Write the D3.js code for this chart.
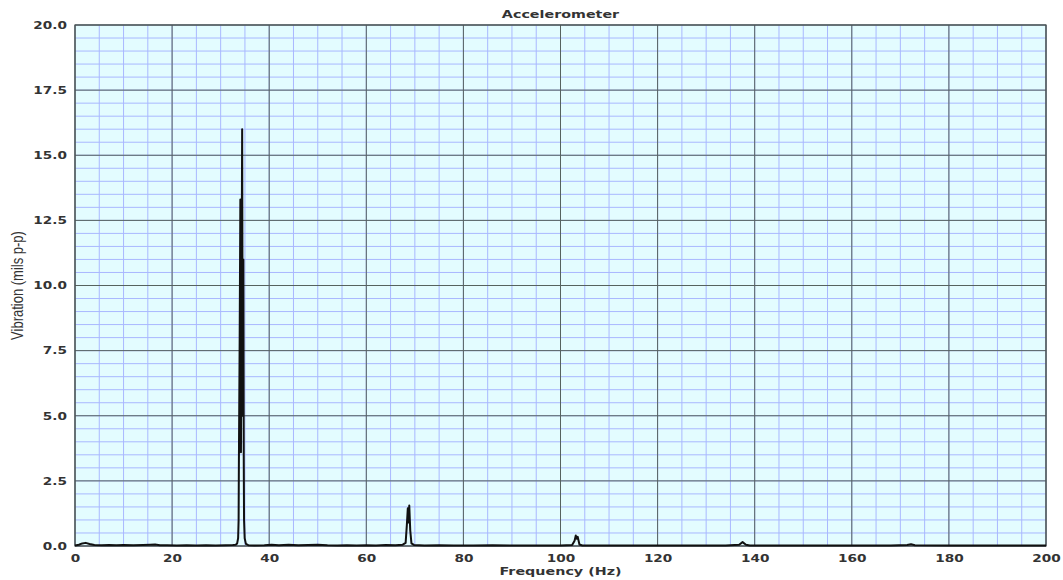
<!DOCTYPE html>
<html>
<head>
<meta charset="utf-8">
<script src="https://cdn.jsdelivr.net/npm/d3@7"></script>
<style>
  body { margin: 0; background: #fff; }
</style>
</head>
<body>
<div id="wrapper"></div>
<script>
// spectrum: [frequency Hz, vibration mils p-p]
const spectrum = [
  [0, 0.02], [0.8, 0.05], [1.5, 0.1], [2.2, 0.12], [3.0, 0.08], [4.0, 0.04],
  [5.5, 0.03], [7.0, 0.04], [8.5, 0.03], [10, 0.04], [12, 0.03], [14, 0.04],
  [15.5, 0.05], [16.5, 0.06], [17.5, 0.03], [19, 0.03], [21, 0.02], [23, 0.03],
  [25, 0.02], [27, 0.03], [29, 0.02], [31, 0.03], [32.5, 0.04],
  [33.1, 0.05], [33.4, 0.1], [33.6, 0.3], [33.7, 1.0], [33.76, 3.3],
  [33.92, 8.0], [34.06, 13.3], [34.18, 3.6], [34.43, 16.0], [34.55, 5.0],
  [34.68, 11.0], [34.76, 3.3], [34.82, 1.0], [34.95, 0.3], [35.2, 0.08],
  [35.7, 0.03], [37, 0.02], [39, 0.03], [40.5, 0.05], [42, 0.03], [44, 0.05],
  [46, 0.03], [48, 0.04], [50, 0.05], [52, 0.03], [54, 0.02], [56, 0.03],
  [58, 0.02], [60, 0.03], [62, 0.02], [64, 0.04], [66, 0.03], [67.5, 0.05],
  [68.1, 0.12], [68.35, 0.8], [68.55, 1.45], [68.7, 0.9], [68.85, 1.55],
  [69.05, 0.6], [69.3, 0.1], [69.8, 0.04], [72, 0.02], [75, 0.03], [78, 0.02],
  [82, 0.02], [86, 0.03], [90, 0.02], [95, 0.02], [100, 0.02], [102.4, 0.04],
  [102.9, 0.2], [103.15, 0.4], [103.35, 0.28], [103.55, 0.35], [103.9, 0.06],
  [104.5, 0.02], [110, 0.02], [118, 0.02], [126, 0.02], [134, 0.02],
  [136.8, 0.05], [137.5, 0.15], [138.2, 0.05], [139, 0.02], [150, 0.02],
  [160, 0.02], [168, 0.02], [171.4, 0.04], [172.2, 0.07], [173, 0.03],
  [180, 0.02], [190, 0.02], [200, 0.02]
]
const xTickValues = [0, 20, 40, 60, 80, 100, 120, 140, 160, 180, 200]
const yTickValues = [0, 2.5, 5, 7.5, 10, 12.5, 15, 17.5, 20]
const chartTitle = "Accelerometer"
const xLabel = "Frequency (Hz)"
const yLabel = "Vibration (mils p-p)"

const xAccessor = d => d[0]
const yAccessor = d => d[1]

const dimensions = {
  width: 1063,
  height: 580,
  margin: { top: 25, right: 17, bottom: 34, left: 75 },
}
dimensions.boundedWidth = dimensions.width - dimensions.margin.left - dimensions.margin.right
dimensions.boundedHeight = dimensions.height - dimensions.margin.top - dimensions.margin.bottom

// the picture is stretched sideways, so the text is too
const stretch = 1.3
const tickFont = "DejaVu Sans, Verdana, sans-serif"

const wrapper = d3.select("#wrapper")
  .append("svg")
    .attr("width", dimensions.width)
    .attr("height", dimensions.height)

const bounds = wrapper.append("g")
    .attr("transform", `translate(${dimensions.margin.left},${dimensions.margin.top})`)

const xScale = d3.scaleLinear()
    .domain([0, 200])
    .range([0, dimensions.boundedWidth])
const yScale = d3.scaleLinear()
    .domain([0, 20])
    .range([dimensions.boundedHeight, 0])

bounds.append("rect")
    .attr("width", dimensions.boundedWidth)
    .attr("height", dimensions.boundedHeight)
    .attr("fill", "#e3fcff")

// minor grid
bounds.append("g")
  .selectAll("line")
  .data(xScale.ticks(40))
  .join("line")
    .attr("x1", d => xScale(d)).attr("x2", d => xScale(d))
    .attr("y1", 0).attr("y2", dimensions.boundedHeight)
    .attr("stroke", "#a9b8ff")
    .attr("stroke-width", 1)
bounds.append("g")
  .selectAll("line")
  .data(yScale.ticks(40))
  .join("line")
    .attr("y1", d => yScale(d)).attr("y2", d => yScale(d))
    .attr("x1", 0).attr("x2", dimensions.boundedWidth)
    .attr("stroke", "#a9b8ff")
    .attr("stroke-width", 1)

// major grid
bounds.append("g")
  .selectAll("line")
  .data(xTickValues)
  .join("line")
    .attr("x1", d => xScale(d)).attr("x2", d => xScale(d))
    .attr("y1", 0).attr("y2", dimensions.boundedHeight)
    .attr("stroke", "#56625f")
    .attr("stroke-width", 1)
bounds.append("g")
  .selectAll("line")
  .data(yTickValues)
  .join("line")
    .attr("y1", d => yScale(d)).attr("y2", d => yScale(d))
    .attr("x1", 0).attr("x2", dimensions.boundedWidth)
    .attr("stroke", "#56625f")
    .attr("stroke-width", 1)

bounds.append("rect")
    .attr("width", dimensions.boundedWidth)
    .attr("height", dimensions.boundedHeight)
    .attr("fill", "none")
    .attr("stroke", "#4a5350")
    .attr("stroke-width", 1.2)

const lineGenerator = d3.line()
  .x(d => xScale(xAccessor(d)))
  .y(d => yScale(yAccessor(d)))

bounds.append("path")
    .attr("d", lineGenerator(spectrum))
    .attr("fill", "none")
    .attr("stroke", "#111")
    .attr("stroke-width", 2)
    .attr("stroke-linejoin", "round")

// axes, drawn with d3 axis generators then restyled
const xAxis = bounds.append("g")
    .attr("transform", `translate(0,${dimensions.boundedHeight})`)
    .call(d3.axisBottom(xScale).tickValues(xTickValues).tickSize(0).tickPadding(0))
xAxis.select(".domain").remove()
xAxis.selectAll("text")
    .attr("dy", null)
    .attr("y", 0)
    .attr("transform", `translate(0,16) scale(${stretch},1)`)
    .attr("fill", "#333")
    .style("font", `bold 10.5px ${tickFont}`)

const yAxis = bounds.append("g")
    .call(d3.axisLeft(yScale).tickValues(yTickValues).tickSize(0).tickPadding(0)
      .tickFormat(d3.format(".1f")))
yAxis.select(".domain").remove()
yAxis.selectAll("text")
    .attr("x", 0)
    .attr("transform", `translate(-8,0) scale(${stretch},1)`)
    .attr("fill", "#333")
    .style("font", `bold 10.5px ${tickFont}`)

wrapper.append("text")
    .attr("transform", `translate(${dimensions.margin.left + dimensions.boundedWidth / 2},17.5) scale(${stretch},1)`)
    .attr("text-anchor", "middle")
    .attr("fill", "#333")
    .style("font", `bold 11px ${tickFont}`)
    .text(chartTitle)

wrapper.append("text")
    .attr("transform", `translate(${dimensions.margin.left + dimensions.boundedWidth / 2},575) scale(${stretch},1)`)
    .attr("text-anchor", "middle")
    .attr("fill", "#333")
    .style("font", `bold 11px ${tickFont}`)
    .text(xLabel)

wrapper.append("text")
    .attr("transform", `translate(23,${dimensions.margin.top + dimensions.boundedHeight / 2}) scale(${stretch},1) rotate(-90)`)
    .attr("text-anchor", "middle")
    .attr("fill", "#333")
    .style("font", "13px 'Liberation Sans', Arial, sans-serif")
    .text(yLabel)
</script>
</body>
</html>
